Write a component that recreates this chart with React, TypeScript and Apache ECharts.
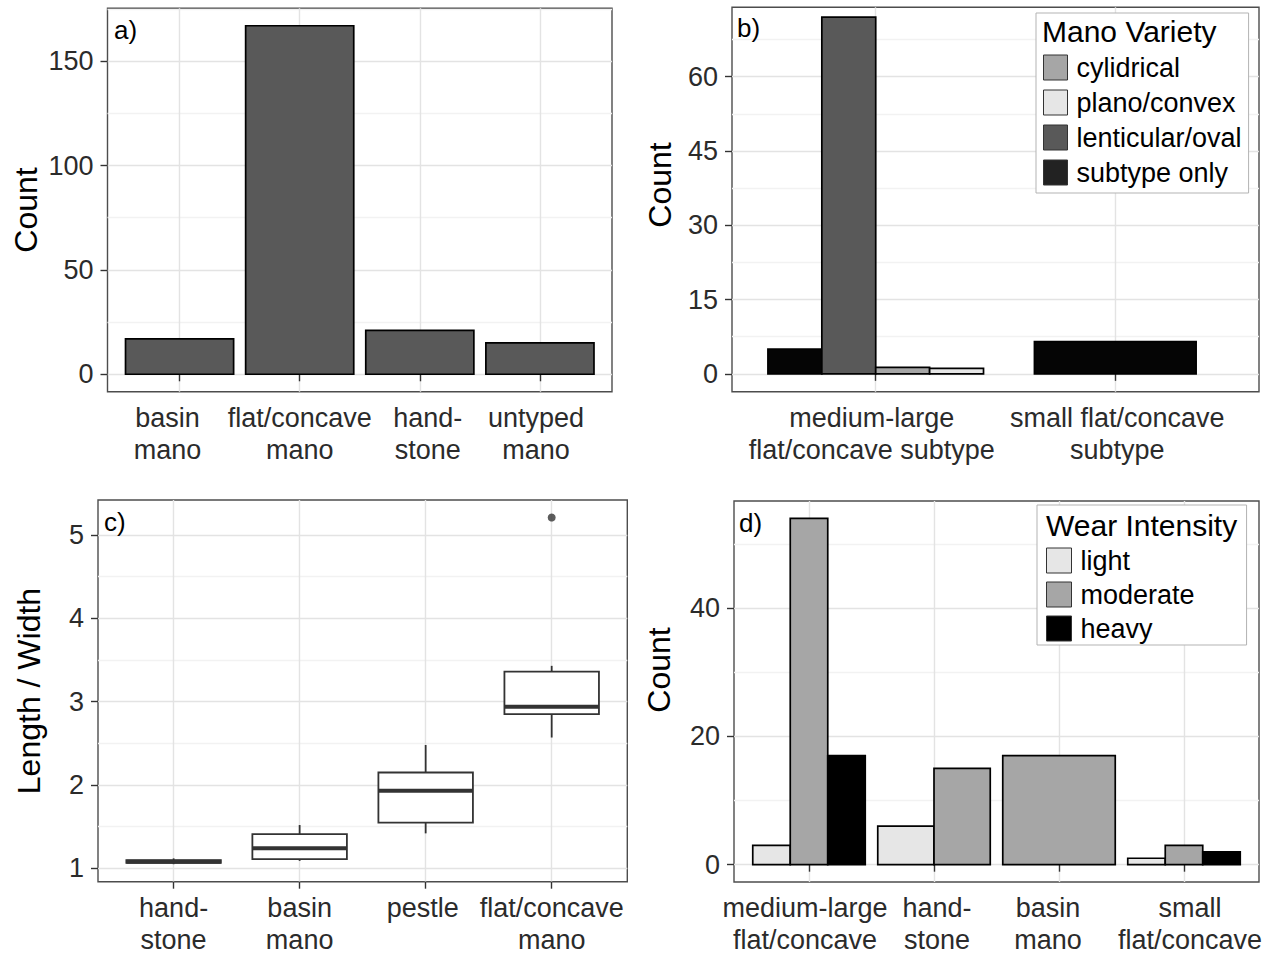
import React, { useEffect, useRef } from "react";
import * as echarts from "echarts";

// ---------- data ----------
const aCategories = ["basin\nmano", "flat/concave\nmano", "hand-\nstone", "untyped\nmano"];
const aCounts = [17, 167, 21, 15];
const aTicks = [0, 50, 100, 150];
const aMinorTicks = [25, 75, 125, 175];

const bCategories = ["medium-large\nflat/concave subtype", "small flat/concave\nsubtype"];
const bSubtypeOnly = [5, 6.5];
const bLenticular = [72, null];
const bCylidrical = [1.3, null];
const bPlanoConvex = [1.1, null];
const bTicks = [0, 15, 30, 45, 60];
const bMinorTicks = [7.5, 22.5, 37.5, 52.5, 67.5];

const cCategories = ["hand-\nstone", "basin\nmano", "pestle", "flat/concave\nmano"];
const cLowerWhisker = [1.05, 1.09, 1.42, 2.57];
const cQ1 = [1.065, 1.11, 1.55, 2.85];
const cMedian = [1.08, 1.24, 1.93, 2.94];
const cQ3 = [1.1, 1.41, 2.15, 3.36];
const cUpperWhisker = [1.12, 1.52, 2.48, 3.43];
const cOutlierCategory = ["flat/concave\nmano"];
const cOutlierValue = [5.21];
const cTicks = [1, 2, 3, 4, 5];
const cMinorTicks = [1.5, 2.5, 3.5, 4.5];

const dCategories = ["medium-large\nflat/concave", "hand-\nstone", "basin\nmano", "small\nflat/concave"];
const dLight = [3, 6, null, 1];
const dModerate = [54, 15, 17, 3];
const dHeavy = [17, null, null, 2];
const dTicks = [0, 20, 40];
const dMinorTicks = [10, 30, 50];

// ---------- styles ----------
const FONT = "Liberation Sans, Arial, Helvetica, sans-serif";
const GRID_BORDER = "#4d4d4d";
const MAJOR = "#e3e3e3";
const MINOR = "#f2f2f2";
const TICK = "#333333";
const BAR_STROKE = "#000000";
const BAR_LW = 1.7;

// horizontal nudges of the category labels (px), as seen in the original figure
const aLabelShift = [-12, 0, 8, -4];
const bLabelShift = [-4, 2];
const cLabelShift = [0, 0, -3, 0];
const dLabelShift = [-4, 3, -11, 6];

type Vals = (number | null)[];

// position_dodge-like layout computed from which groups are present
function dodgeData(groups: Vals[], gi: number, groupWidths: number[]) {
  const out: number[][] = [];
  const nCat = groups[0].length;
  for (let c = 0; c < nCat; c++) {
    const v = groups[gi][c];
    if (v == null) continue;
    const present = groups.map((g, i) => (g[c] != null ? i : -1)).filter((i) => i >= 0);
    const n = present.length;
    const total = groupWidths[c];
    const w = total / n;
    const slot = present.indexOf(gi);
    const center = c + 1 - total / 2 + w * (slot + 0.5);
    out.push([center, v, w]);
  }
  return out;
}

function barSeries(name: string, data: number[][], color: string, axisIdx: number) {
  return {
    type: "custom",
    name,
    xAxisIndex: axisIdx,
    yAxisIndex: axisIdx * 2,
    itemStyle: { color, borderColor: BAR_STROKE, borderWidth: BAR_LW },
    encode: { x: 0, y: 1 },
    data,
    z: 3,
    renderItem: (params: any, api: any) => {
      const x = api.value(0);
      const y = api.value(1);
      const w = api.value(2);
      const p0 = api.coord([x - w / 2, y]);
      const p1 = api.coord([x + w / 2, 0]);
      return {
        type: "rect",
        shape: { x: p0[0], y: p0[1], width: p1[0] - p0[0], height: p1[1] - p0[1] },
        style: { fill: color, stroke: BAR_STROKE, lineWidth: BAR_LW },
      };
    },
  };
}

const grids = [
  { left: 107.5, top: 8.3, width: 504.5, height: 383.4 },
  { left: 732, top: 7.3, width: 527, height: 384.4 },
  { left: 98, top: 500, width: 529.3, height: 381.7 },
  { left: 734, top: 501, width: 525, height: 381 },
];

function xAxisFor(i: number, cats: string[], shifts: number[]) {
  const vals = cats.map((_, k) => k + 1);
  const rich: any = {};
  shifts.forEach((s, k) => {
    rich["p" + k] = {
      fontSize: 27,
      lineHeight: 32,
      fontFamily: FONT,
      color: "#2b2b2b",
      padding: s >= 0 ? [0, 0, 0, 2 * s] : [0, -2 * s, 0, 0],
    };
  });
  return {
    type: "value",
    gridIndex: i,
    min: 0.4,
    max: cats.length + 0.6,
    axisLine: { show: false },
    axisTick: { show: true, length: 7, customValues: vals, lineStyle: { color: TICK, width: 1.4 } },
    axisLabel: {
      customValues: vals,
      hideOverlap: false,
      showMinLabel: true,
      showMaxLabel: true,
      formatter: (v: number) => {
        const k = Math.round(v) - 1;
        const t = cats[k] ?? "";
        return t
          .split("\n")
          .map((line) => `{p${k}|${line}}`)
          .join("\n");
      },
      rich,
      fontSize: 27,
      lineHeight: 32,
      margin: 10,
      color: "#2b2b2b",
      fontFamily: FONT,
    },
    splitLine: { show: true, lineStyle: { color: MAJOR, width: 1.4 } },
  };
}

function yAxesFor(i: number, min: number, max: number, ticks: number[], minor: number[]) {
  return [
    {
      type: "value",
      gridIndex: i,
      min,
      max,
      axisLine: { show: false },
      axisTick: { show: true, length: 7, customValues: ticks, lineStyle: { color: TICK, width: 1.4 } },
      axisLabel: {
        customValues: ticks,
        showMinLabel: true,
        showMaxLabel: true,
        fontSize: 27,
        margin: 14,
        color: "#2b2b2b",
        fontFamily: FONT,
      },
      splitLine: { show: true, lineStyle: { color: MAJOR, width: 1.4 } },
    },
    {
      type: "value",
      gridIndex: i,
      min,
      max,
      position: "left",
      axisLine: { show: false },
      axisTick: { show: false, customValues: minor },
      axisLabel: { show: false, customValues: minor },
      splitLine: { show: true, lineStyle: { color: MINOR, width: 1.4 } },
      z: 0,
    },
  ];
}

function textEl(text: string, x: number, y: number, size: number, opts: any = {}) {
  return {
    type: "text",
    x,
    y,
    z: 50,
    rotation: opts.rotation ?? 0,
    style: {
      text,
      fontSize: size,
      fontFamily: FONT,
      fill: "#000",
      align: opts.align ?? "left",
      verticalAlign: "middle",
    },
  };
}

export default function App() {
  const ref = useRef<HTMLDivElement>(null);

  useEffect(() => {
    document.body.style.margin = "0";
    const chart = echarts.init(ref.current!, null, { renderer: "svg" });

    const bGroups: Vals[] = [bSubtypeOnly, bLenticular, bCylidrical, bPlanoConvex];
    const bNames = ["subtype only", "lenticular/oval", "cylidrical", "plano/convex"];
    const bColors = ["#050505", "#595959", "#a6a6a6", "#e6e6e6"];
    const bGroupWidths = [0.9, 0.675];

    const dGroups: Vals[] = [dLight, dModerate, dHeavy];
    const dNames = ["light", "moderate", "heavy"];
    const dColors = ["#e6e6e6", "#a6a6a6", "#000000"];
    const dGroupWidths = dCategories.map(() => 0.9);

    const aData = aCounts.map((v, k) => [k + 1, v, 0.9]);

    const boxData = cCategories.map((_, k) => [
      k + 1,
      cLowerWhisker[k],
      cQ1[k],
      cMedian[k],
      cQ3[k],
      cUpperWhisker[k],
    ]);
    const outData = cOutlierValue.map((v, k) => [cCategories.indexOf(cOutlierCategory[k]) + 1, v]);

    const series: any[] = [];
    series.push(barSeries("a", aData, "#595959", 0));
    bGroups.forEach((g, gi) => {
      series.push(barSeries(bNames[gi], dodgeData(bGroups, gi, bGroupWidths), bColors[gi], 1));
    });
    series.push({
      type: "custom",
      name: "box",
      xAxisIndex: 2,
      yAxisIndex: 4,
      encode: { x: 0, y: [1, 2, 3, 4, 5] },
      data: boxData,
      z: 3,
      renderItem: (params: any, api: any) => {
        const x = api.value(0);
        const lo = api.value(1);
        const q1 = api.value(2);
        const med = api.value(3);
        const q3 = api.value(4);
        const hi = api.value(5);
        const hw = 0.375;
        const pHi = api.coord([x, hi]);
        const pQ3 = api.coord([x, q3]);
        const pQ1 = api.coord([x, q1]);
        const pLo = api.coord([x, lo]);
        const tl = api.coord([x - hw, q3]);
        const br = api.coord([x + hw, q1]);
        const ml = api.coord([x - hw, med]);
        const mr = api.coord([x + hw, med]);
        const ls = { stroke: "#333333", lineWidth: 1.8 };
        return {
          type: "group",
          children: [
            { type: "line", shape: { x1: pHi[0], y1: pHi[1], x2: pQ3[0], y2: pQ3[1] }, style: ls },
            { type: "line", shape: { x1: pQ1[0], y1: pQ1[1], x2: pLo[0], y2: pLo[1] }, style: ls },
            {
              type: "rect",
              shape: { x: tl[0], y: tl[1], width: br[0] - tl[0], height: br[1] - tl[1] },
              style: { fill: "#ffffff", stroke: "#333333", lineWidth: 1.8 },
            },
            {
              type: "line",
              shape: { x1: ml[0], y1: ml[1], x2: mr[0], y2: mr[1] },
              style: { stroke: "#333333", lineWidth: 4 },
            },
          ],
        };
      },
    });
    series.push({
      type: "scatter",
      name: "outlier",
      xAxisIndex: 2,
      yAxisIndex: 4,
      data: outData,
      symbol: "circle",
      symbolSize: 8,
      itemStyle: { color: "#333333" },
      z: 4,
    });
    dGroups.forEach((g, gi) => {
      series.push(barSeries(dNames[gi], dodgeData(dGroups, gi, dGroupWidths), dColors[gi], 3));
    });

    const legendCommon = {
      orient: "vertical",
      icon: "rect",
      selectedMode: false,
      backgroundColor: "#ffffff",
      borderColor: "#b3b3b3",
      borderWidth: 1,
      textStyle: { fontSize: 27, lineHeight: 27, fontFamily: FONT, color: "#000", padding: [0, 0, 0, 4] },
      z: 20,
    };

    const option: any = {
      animation: false,
      backgroundColor: "#ffffff",
      textStyle: { fontFamily: FONT },
      grid: grids.map((g) => ({
        ...g,
        show: true,
        borderColor: GRID_BORDER,
        borderWidth: 1.4,
        backgroundColor: "#ffffff",
        containLabel: false,
      })),
      xAxis: [
        xAxisFor(0, aCategories, aLabelShift),
        xAxisFor(1, bCategories, bLabelShift),
        xAxisFor(2, cCategories, cLabelShift),
        xAxisFor(3, dCategories, dLabelShift),
      ],
      yAxis: [
        ...yAxesFor(0, -8.35, 175.35, aTicks, aMinorTicks),
        ...yAxesFor(1, -3.6, 74, bTicks, bMinorTicks),
        ...yAxesFor(2, 0.84, 5.42, cTicks, cMinorTicks),
        ...yAxesFor(3, -2.7, 56.7, dTicks, dMinorTicks),
      ],
      legend: [
        {
          ...legendCommon,
          left: 1036,
          top: 13,
          itemWidth: 24,
          itemHeight: 25,
          itemGap: 8,
          padding: [41, 7, 7, 7],
          data: [
            { name: "cylidrical", itemStyle: { color: "#a6a6a6", borderColor: "#333", borderWidth: 1 } },
            { name: "plano/convex", itemStyle: { color: "#e6e6e6", borderColor: "#333", borderWidth: 1 } },
            { name: "lenticular/oval", itemStyle: { color: "#595959", borderColor: "#333", borderWidth: 1 } },
            { name: "subtype only", itemStyle: { color: "#222222", borderColor: "#333", borderWidth: 1 } },
          ],
        },
        {
          ...legendCommon,
          left: 1037,
          top: 505,
          itemWidth: 25,
          itemHeight: 25,
          itemGap: 7,
          padding: [42, 52, 3, 9],
          data: [
            { name: "light", itemStyle: { color: "#e6e6e6", borderColor: "#333", borderWidth: 1 } },
            { name: "moderate", itemStyle: { color: "#a6a6a6", borderColor: "#333", borderWidth: 1 } },
            { name: "heavy", itemStyle: { color: "#000000", borderColor: "#333", borderWidth: 1 } },
          ],
        },
      ],
      graphic: [
        textEl("a)", 114, 30, 26),
        textEl("b)", 737, 28, 26),
        textEl("c)", 104, 522, 26),
        textEl("d)", 739, 523, 26),
        textEl("Count", 26, 210, 32, { rotation: Math.PI / 2, align: "center" }),
        textEl("Count", 660, 185, 32, { rotation: Math.PI / 2, align: "center" }),
        textEl("Length / Width", 29, 691, 32, { rotation: Math.PI / 2, align: "center" }),
        textEl("Count", 659, 670, 32, { rotation: Math.PI / 2, align: "center" }),
        textEl("Mano Variety", 1042, 31, 30),
        textEl("Wear Intensity", 1046, 525, 30),
      ],
      series,
    };

    chart.setOption(option);
    return () => chart.dispose();
  }, []);

  return <div ref={ref} style={{ width: 1268, height: 958 }} />;
}
